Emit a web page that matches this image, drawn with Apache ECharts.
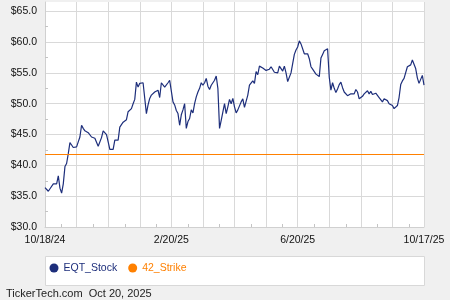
<!DOCTYPE html>
<html>
<head>
<meta charset="utf-8">
<script src="https://cdn.jsdelivr.net/npm/echarts@6/dist/echarts.min.js"></script>
<style>
html,body{margin:0;padding:0;background:#f0f0f0;}
#chart{width:450px;height:300px;}
</style>
</head>
<body>
<div id="chart"></div>
<script>
const stockValues = [
36.4,36.1,35.8,36.2,36.5,37.0,37.1,37.0,38.3,36.3,35.5,37.0,39.8,40.3,41.9,43.7,43.3,42.9,42.6,43.0,
43.8,44.6,46.5,46.0,45.6,45.5,45.3,45.1,44.6,44.7,44.4,44.3,43.1,43.0,44.5,45.6,45.4,45.0,43.8,42.6,
42.5,42.6,44.1,44.3,44.1,46.2,46.0,47.0,46.8,47.4,48.7,48.5,49.2,50.0,50.7,53.5,52.7,53.3,53.2,53.4,
53.3,
48.4,49.8,50.85,51.4,51.1,51.9,51.7,52.2,51.0,53.4,53.5,52.7,53.0,53.4,53.8,54.1,50.3,49.8,48.9,48.4,
46.5,48.2,49.0,50.0,46.0,47.1,47.6,49.0,48.5,50.0,51.1,51.9,52.5,53.4,53.0,53.4,54.1,52.85,52.3,53.0,
53.4,53.8,54.5,52.5,46.0,47.3,47.4,50.0,48.4,49.5,50.7,50.0,50.85,49.5,48.5,49.0,
49.0,50.3,50.8,49.4,49.7,51.4,53.0,53.3,53.7,53.3,55.2,54.7,56.1,56.1,55.8,55.7,55.4,55.7,55.6,56.0,
56.2,55.1,55.3,55.0,56.1,56.25,55.3,56.1,55.0,53.6,53.8,55.0,56.5,58.0,58.7,59.2,60.2,59.7,59.6,58.1,
58.0,58.1,57.3,56.0,55.6,55.4,54.8,54.5,54.4,57.4,58.0,58.6,58.4,58.9,54.3,52.2,53.4,
52.5,51.8,52.4,53.1,53.5,52.6,51.9,51.6,51.3,51.2,51.6,51.3,51.6,52.3,51.9,50.8,50.5,51.2,51.6,51.7,
52.1,51.6,52.0,51.5,51.8,51.7,51.5,51.0,50.9,50.3,50.8,50.7,50.5,50.0,49.8,49.7,49.2,49.2,49.7,51.0,
53.1,53.7,54.1,54.3,56.0,55.9,56.3,57.1,56.8,55.7,54.2,53.3,53.4,54.6,53.0
];
const strikeLevel = 41.75;
const xTickLabels = ['10/18/24', '2/20/25', '6/20/25', '10/17/25'];
const seriesNames = ['EQT_Stock', '42_Strike'];

const categories = stockValues.map((_, i) => i);
const gridStep = 19;
const labelStep = 76;
const FONT = "'Liberation Sans', Arial, sans-serif";
const NAVY = '#1d2e7b';
const ORANGE = '#ff8000';

const chart = echarts.init(document.getElementById('chart'), null, {renderer: 'canvas'});
chart.setOption({
  animation: false,
  backgroundColor: '#f0f0f0',
  title: {
    text: 'TickerTech.com  Oct 20, 2025',
    left: 6, top: 288, padding: 0,
    textStyle: {fontSize: 11, fontWeight: 'normal', color: '#222', fontFamily: FONT}
  },
  graphic: [{
    type: 'rect', z: 0,
    shape: {x: 45.5, y: 256.5, width: 379, height: 29},
    style: {fill: '#fff', stroke: '#d8d8d8', lineWidth: 1}
  }],
  legend: {
    left: 49.5, top: 262.5, padding: 0,
    itemWidth: 9, itemHeight: 9, itemGap: 11, icon: 'circle',
    textStyle: {fontSize: 10.5, fontFamily: FONT},
    data: [
      {name: seriesNames[0], textStyle: {color: NAVY}},
      {name: seriesNames[1], textStyle: {color: ORANGE}}
    ]
  },
  grid: {left: 45, right: 26, top: 2, bottom: 73, show: true, backgroundColor: '#fff', borderWidth: 0},
  xAxis: {
    type: 'category',
    data: categories,
    boundaryGap: false,
    axisLine: {show: true, lineStyle: {color: '#d0d0d0'}},
    axisTick: {show: true, inside: true, length: 3, interval: (i) => i % gridStep === 10, lineStyle: {color: '#c4c4c4'}},
    axisLabel: {
      interval: (i) => i % labelStep === 0,
      formatter: (v, i) => xTickLabels[Math.round(i / labelStep)] || '',
      fontSize: 10.5, color: '#111', margin: 8, fontFamily: FONT
    },
    splitLine: {show: true, interval: (i) => i % gridStep === 0, lineStyle: {color: '#d9d9d9'}}
  },
  yAxis: {
    type: 'value',
    min: 30, max: 66.5, interval: 5,
    axisLine: {show: true, lineStyle: {color: '#d0d0d0'}},
    axisTick: {show: false, inside: true},
    minorTick: {show: true, splitNumber: 2, length: 3, lineStyle: {color: '#c4c4c4'}},
    axisLabel: {
      formatter: (v) => v > 65.01 ? '' : '$' + v.toFixed(1),
      fontSize: 10.5, color: '#111', margin: 8, fontFamily: FONT
    },
    splitLine: {show: true, lineStyle: {color: ['#d9d9d9','#d9d9d9','#d9d9d9','#d9d9d9','#d9d9d9','#d9d9d9','#d9d9d9','#d9d9d9','#ffffff']}}
  },
  series: [
    {
      name: seriesNames[0], type: 'line', data: stockValues,
      showSymbol: false, symbol: 'circle',
      lineStyle: {width: 1.2, color: NAVY}, itemStyle: {color: NAVY},
      z: 3
    },
    {
      name: seriesNames[1], type: 'line', data: [],
      showSymbol: false, symbol: 'circle',
      itemStyle: {color: ORANGE}, lineStyle: {color: ORANGE},
      markLine: {
        symbol: 'none', silent: true, label: {show: false},
        lineStyle: {color: ORANGE, width: 1.2, type: 'solid'},
        data: [{yAxis: strikeLevel}]
      },
      z: 2
    }
  ]
});
</script>
</body>
</html>
